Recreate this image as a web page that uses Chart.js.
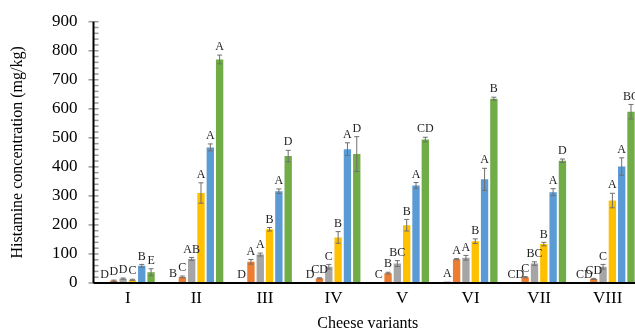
<!DOCTYPE html>
<html>
<head>
<meta charset="utf-8">
<script src="https://cdn.jsdelivr.net/npm/chart.js@4/dist/chart.umd.min.js"></script>
<style>
html,body{margin:0;padding:0;overflow:hidden;background:#fff;width:635px;height:333px;}
canvas{display:block;}
</style>
</head>
<body>
<canvas id="c" width="650" height="333"></canvas>
<script>
const categories = ['I','II','III','IV','V','VI','VII','VIII'];
const yTicks = [0,100,200,300,400,500,600,700,800,900];

const s1 = [0, 3, 0, 0, 1, 4, 1, 1];
const s2 = [8, 21, 73, 16, 34, 82, 20, 14];
const s3 = [15, 83, 98, 56, 67, 87, 67, 56];
const s4 = [11, 310, 185, 157, 199, 144, 134, 284];
const s5 = [59, 467, 316, 461, 336, 357, 313, 401];
const s6 = [37, 770, 437, 444, 494, 635, 421, 590];

const e1 = [0, 0, 0, 0, 0, 0, 0, 0];
const e2 = [2, 3, 8, 2, 3, 2, 2, 2];
const e3 = [2, 5, 5, 8, 10, 8, 6, 8];
const e4 = [2, 35, 6, 20, 20, 8, 6, 25];
const e5 = [5, 12, 8, 22, 10, 38, 12, 30];
const e6 = [12, 15, 20, 60, 8, 5, 6, 25];

const l1 = ['D','B','D','D','C','A','CD','CD'];
const l2 = ['D','C','A','CD','B','A','C','CD'];
const l3 = ['D','AB','A','C','BC','A','BC','C'];
const l4 = ['C','A','B','B','B','B','B','A'];
const l5 = ['B','A','A','A','A','A','A','A'];
const l6 = ['E','A','D','D','CD','B','D','BC'];

const colors = ['#7030A0','#ED7D31','#A5A5A5','#FFC000','#5B9BD5','#70AD47'];
const values = [s1,s2,s3,s4,s5,s6];
const errors = [e1,e2,e3,e4,e5,e6];
const letters = [l1,l2,l3,l4,l5,l6];

const FONT = '"Liberation Serif", "Times New Roman", serif';

const extras = {
  id: 'extras',
  afterDatasetsDraw(chart) {
    const ctx = chart.ctx;
    const ys = chart.scales.y;
    ctx.save();
    chart.data.datasets.forEach((ds, d) => {
      const meta = chart.getDatasetMeta(d);
      meta.data.forEach((el, i) => {
        const v = values[d][i];
        const err = errors[d][i];
        let top = el.y;
        if (err > 0) {
          const yH = ys.getPixelForValue(v + err);
          const yL = ys.getPixelForValue(v - err);
          ctx.strokeStyle = '#6f6f6f';
          ctx.lineWidth = 1;
          ctx.beginPath();
          ctx.moveTo(el.x, yH); ctx.lineTo(el.x, yL);
          ctx.moveTo(el.x - 2.5, yH); ctx.lineTo(el.x + 2.5, yH);
          ctx.moveTo(el.x - 2.5, yL); ctx.lineTo(el.x + 2.5, yL);
          ctx.stroke();
          top = Math.min(top, yH);
        }
        ctx.fillStyle = '#222';
        ctx.font = '12px ' + FONT;
        ctx.textAlign = 'center';
        ctx.textBaseline = 'bottom';
        ctx.fillText(letters[d][i], el.x, top - 2);
      });
    });
    // y-axis tick marks (major crossing, minor inside)
    const x0 = chart.chartArea.left;
    ctx.strokeStyle = '#9a9a9a';
    ctx.lineWidth = 1.5;
    for (let v = 0; v <= 900; v += 20) {
      const y = ys.getPixelForValue(v);
      ctx.beginPath();
      if (v % 100 === 0) { ctx.moveTo(x0 - 5, y); ctx.lineTo(x0 + 5, y); }
      else { ctx.moveTo(x0, y); ctx.lineTo(x0 + 5, y); }
      ctx.stroke();
    }
    ctx.strokeStyle = '#000';
    ctx.lineWidth = 2;
    ctx.beginPath();
    ctx.moveTo(x0, chart.chartArea.top);
    ctx.lineTo(x0, chart.chartArea.bottom);
    ctx.moveTo(x0, chart.chartArea.bottom);
    ctx.lineTo(chart.chartArea.right, chart.chartArea.bottom);
    ctx.stroke();
    ctx.restore();
  }
};

new Chart(document.getElementById('c'), {
  type: 'bar',
  data: {
    labels: categories,
    datasets: values.map((arr, d) => ({
      label: 'Series ' + (d + 1),
      data: arr,
      backgroundColor: colors[d],
      borderWidth: 0,
      categoryPercentage: 0.815,
      barPercentage: 0.79
    }))
  },
  options: {
    responsive: false,
    animation: false,
    devicePixelRatio: 1,
    layout: { padding: { top: 21.7, right: 8, left: 0, bottom: 0 } },
    plugins: { legend: { display: false }, tooltip: { enabled: false } },
    scales: {
      x: {
        grid: { display: false, drawTicks: false },
        border: { display: false },
        ticks: { color: '#000', font: { family: FONT, size: 17 }, padding: 5 },
        title: { display: true, text: 'Cheese variants', color: '#000',
                 font: { family: FONT, size: 16 }, padding: { top: 2, bottom: 0 } },
        afterFit(s) { s.height = 50; }
      },
      y: {
        min: 0, max: 900,
        afterBuildTicks(s) { s.ticks = yTicks.map(v => ({ value: v })); },
        grid: { display: false, drawTicks: false },
        border: { display: false },
        ticks: { color: '#000', font: { family: FONT, size: 17 }, padding: 16 },
        title: { display: true, text: 'Histamine concentration (mg/kg)', color: '#000',
                 font: { family: FONT, size: 16 }, padding: { top: 8, bottom: 0 } },
        afterFit(s) { s.width = 93.5; s.paddingTop = 10; s.paddingBottom = 10; }
      }
    }
  },
  plugins: [extras]
});
</script>
</body>
</html>
